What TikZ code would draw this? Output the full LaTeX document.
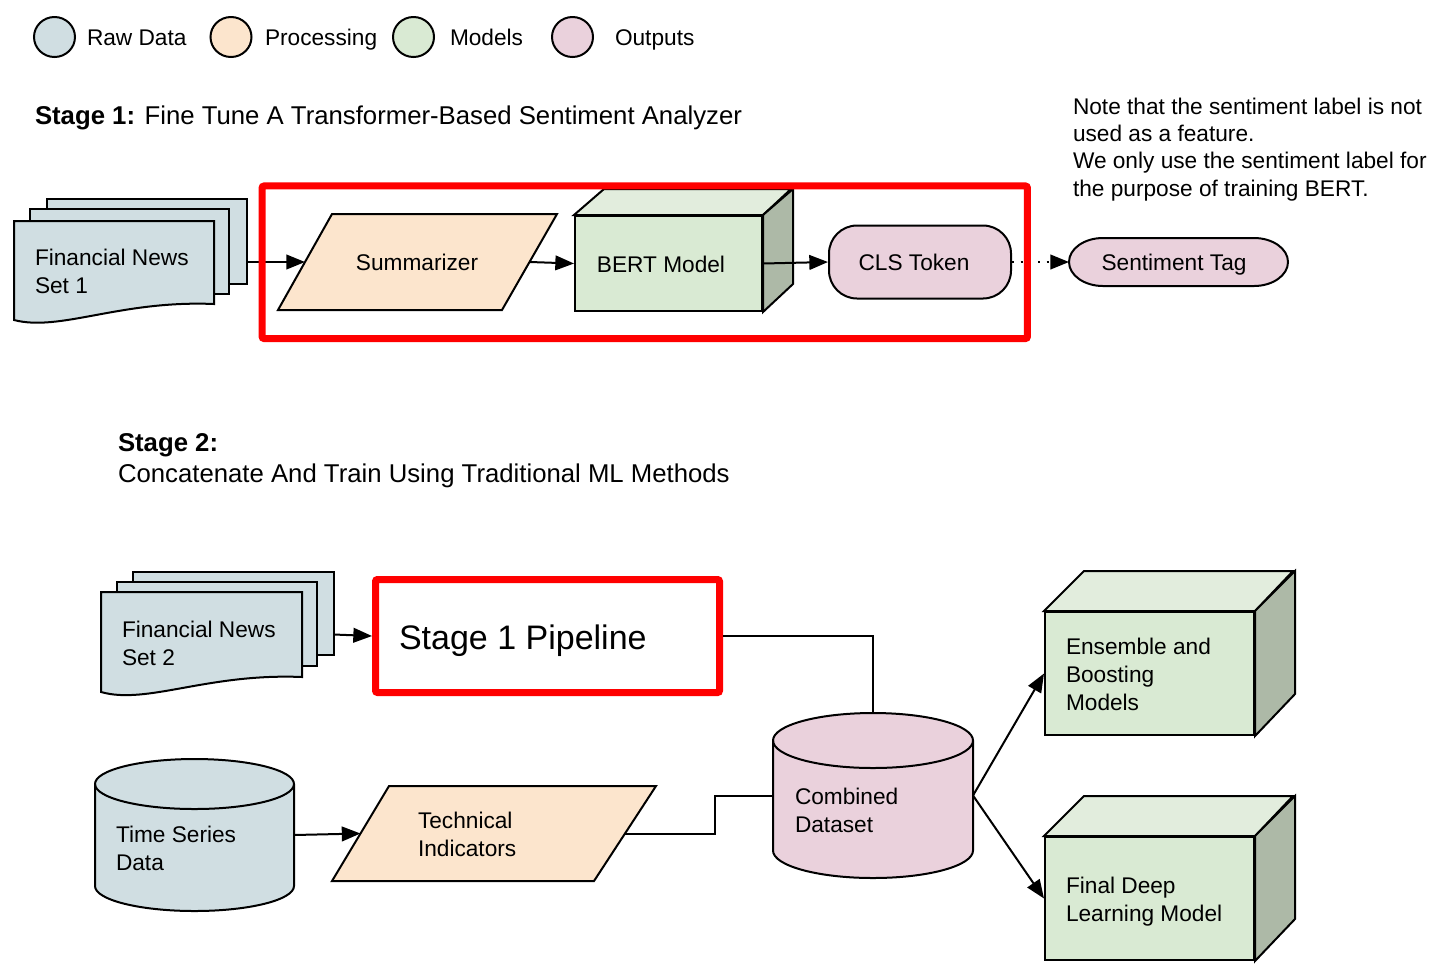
\documentclass[tikz,border=0pt]{standalone}
\usepackage{fontspec}
\setmainfont{Liberation Sans}
\usetikzlibrary{arrows.meta,shapes.geometric,calc}
\definecolor{rawc}{HTML}{D0DEE2}
\definecolor{procc}{HTML}{FCE5CD}
\definecolor{modc}{HTML}{D9EAD3}
\definecolor{outc}{HTML}{EAD1DC}
\definecolor{cubetop}{HTML}{E2EDDD}
\definecolor{cubeside}{HTML}{ADB9A7}
\definecolor{redc}{HTML}{FF0000}
\begin{document}
\begin{tikzpicture}[x=0.75pt,y=-0.75pt,line width=1.5pt,
  txt/.style={inner sep=0pt,outer sep=0pt,font=\fontsize{17pt}{21pt}\selectfont,align=left},
  ttl/.style={inner sep=0pt,outer sep=0pt,font=\fontsize{19.3pt}{23.2pt}\selectfont,align=left},
  shp/.style={inner sep=0pt,outer sep=0pt,draw=none},
  arr/.style={-{Triangle[length=14pt,width=11pt]},line width=1.5pt},
  ln/.style={line width=1.5pt},
  legend/.style={ellipse,draw,line width=1.5pt,minimum width=30.75pt,minimum height=30pt,inner sep=0pt},
  redbox/.style={draw=redc,line width=5.25pt,inner sep=0pt,rounded corners=1.5pt},
  cube/.style={draw,fill=modc,line width=1.5pt,inner sep=0pt}]
\useasboundingbox (0,0) rectangle (1433,972);
\fill[white] (0,0) rectangle (1433,972);

% ---------- legend ----------
\node[legend,fill=rawc] (lg1) at (54.5,37) {};
\node[txt,anchor=base west] (lt1) at (87,45) {Raw Data};
\node[legend,fill=procc] (lg2) at (231,37) {};
\node[txt,anchor=base west] (lt2) at (265,45) {Processing};
\node[legend,fill=modc] (lg3) at (413.5,37) {};
\node[txt,anchor=base west] (lt3) at (450,45) {Models};
\node[legend,fill=outc] (lg4) at (572.5,37) {};
\node[txt,anchor=base west] (lt4) at (615,45) {Outputs};

% ---------- stage 1 ----------
\node[ttl,anchor=base west] (t1) at (35,124) {\textbf{Stage 1:} Fine Tune A Transformer-Based Sentiment Analyzer};
\node[txt,anchor=base west,font=\fontsize{17pt}{20.5pt}\selectfont] (note) at (1073,196)
  {Note that the sentiment label is not\\used as a feature.\\We only use the sentiment label for\\the purpose of training BERT.};

% Financial News Set 1 (multi document)
\node[shp,minimum width=174.75pt,minimum height=94.5pt] (fn1) at (130.5,262) {};
\draw[fill=rawc] (47,199) rectangle (247,284);
\draw[fill=rawc] (30,209) rectangle (229,294);
\draw[fill=rawc] (14,221) -- (214,221) -- (214,304) .. controls (120,300) and (60,332) .. (14,320) -- cycle;
\node[txt,anchor=base west] (fn1t) at (35,293) {Financial News\\Set 1};

% Summarizer
\node[shp,minimum width=168.75pt,minimum height=72pt] (summ) at (417.5,262) {};
\draw[fill=procc] (332,214) -- (557,214) -- (502,310) -- (278,310) -- cycle;
\node[txt,anchor=base] (summt) at (417,270) {Summarizer};

% BERT cube
\node[cube,minimum width=140.25pt,minimum height=71.25pt] (bert) at (668.5,263.5) {};
\draw[fill=cubetop] (bert.north west) -- ++(30,-26) -- ++(187,0) -- (bert.north east) -- cycle;
\draw[fill=cubeside] (bert.north east) -- ++(30,-26) -- ++(0,95) -- (bert.south east) -- cycle;
\node[txt,anchor=base] (bertt) at (661,272) {BERT Model};

% CLS Token
\node[draw,fill=outc,rounded corners=21pt,minimum width=136.5pt,minimum height=54.75pt,inner sep=0pt] (cls) at (920,262) {};
\node[txt,anchor=base] (clst) at (914,270) {CLS Token};

% Sentiment Tag
\node[shp,minimum width=164.25pt,minimum height=36pt] (st) at (1178.5,262) {};
\draw[fill=outc] ($(st.north west)+(34,0)$) -- ($(st.north east)+(-34,0)$)
  arc[start angle=90,end angle=-90,x radius=25.5pt,y radius=18pt]
  -- ($(st.south west)+(34,0)$)
  arc[start angle=270,end angle=90,x radius=25.5pt,y radius=18pt] -- cycle;
\node[txt,anchor=base] (stt) at (1174,270) {Sentiment Tag};

% connectors stage 1
\draw[arr] (fn1.east) -- (summ.west);
\draw[arr] (summ.east) -- (bert.west);
\draw[arr] (bert.east) -- (cls.west);
\draw[arr,dash pattern=on 1.5pt off 5pt] (cls.east) -- (st.west);

\node[redbox,minimum width=574pt,minimum height=114.4pt] (s1) at (644.75,262.25) {};

% ---------- stage 2 ----------
\node[ttl,anchor=base west] (t2) at (118,482) {\textbf{Stage 2:}\\Concatenate And Train Using Traditional ML Methods};

% Financial News Set 2
\node[shp,minimum width=174.75pt,minimum height=93.75pt] (fn2) at (217.5,634.5) {};
\draw[fill=rawc] (133,572) rectangle (334,655);
\draw[fill=rawc] (117,582) rectangle (317,666);
\draw[fill=rawc] (101,592) -- (302,592) -- (302,677) .. controls (207,673) and (147,705) .. (101,692) -- cycle;
\node[txt,anchor=base west] (fn2t) at (122,665) {Financial News\\Set 2};

% Stage 1 Pipeline
\node[redbox,minimum width=258pt,minimum height=84.75pt] (s1p) at (547.5,636) {};
\node[anchor=base west,inner sep=0pt,font=\fontsize{25.5pt}{30pt}\selectfont] (s1pt) at (398,649) {Stage 1 Pipeline};

% Time Series Data cylinder
\node[shp,minimum width=149.25pt,minimum height=114pt] (ts) at (194.5,835) {};
\draw[fill=rawc] (95,784) -- (95,886) arc[start angle=180,end angle=360,x radius=74.625pt,y radius=18.75pt]
  -- (294,784) arc[start angle=0,end angle=180,x radius=74.625pt,y radius=18.75pt] -- cycle;
\draw (95,784) arc[start angle=180,end angle=360,x radius=74.625pt,y radius=18.75pt];
\node[txt,anchor=base west] (tst) at (116,870) {Time Series\\Data};

% Technical Indicators
\node[shp,minimum width=198.4pt,minimum height=71.25pt] (ti) at (492.75,833.5) {};
\draw[fill=procc] (389,786) -- (656,786) -- (594,881) -- (332,881) -- cycle;
\node[txt,anchor=base west] (tit) at (418,856) {Technical\\Indicators};

% Combined Dataset cylinder
\node[shp,minimum width=150pt,minimum height=123.75pt] (cd) at (873,795.5) {};
\draw[fill=outc] (773,740.5) -- (773,850.5) arc[start angle=180,end angle=360,x radius=75pt,y radius=20.625pt]
  -- (973,740.5) arc[start angle=0,end angle=180,x radius=75pt,y radius=20.625pt] -- cycle;
\draw (773,740.5) arc[start angle=180,end angle=360,x radius=75pt,y radius=20.625pt];
\node[txt,anchor=base west] (cdt) at (795,832) {Combined\\Dataset};

% Ensemble cube
\node[cube,minimum width=156.75pt,minimum height=92.25pt] (ens) at (1149.5,673.5) {};
\draw[fill=cubetop] (ens.north west) -- ++(40,-40) -- ++(209,0) -- (ens.north east) -- cycle;
\draw[fill=cubeside] (ens.north east) -- ++(40,-40) -- ++(0,123) -- (ens.south east) -- cycle;
\node[txt,anchor=base west] (enst) at (1066,710) {Ensemble and\\Boosting\\Models};

% Final Deep Learning cube
\node[cube,minimum width=156.75pt,minimum height=92.25pt] (fdl) at (1149.5,898.5) {};
\draw[fill=cubetop] (fdl.north west) -- ++(40,-40) -- ++(209,0) -- (fdl.north east) -- cycle;
\draw[fill=cubeside] (fdl.north east) -- ++(40,-40) -- ++(0,123) -- (fdl.south east) -- cycle;
\node[txt,anchor=base west] (fdlt) at (1066,921) {Final Deep\\Learning Model};

% connectors stage 2
\draw[arr] (fn2.east) -- (s1p.west);
\draw[ln] (s1p.east) -| (cd.north);
\draw[arr] (ts.east) -- (ti.west);
\draw[ln] (ti.east) -- ++(90,0) |- (cd.west);
\draw[arr] (cd.east) -- (ens.west);
\draw[arr] (cd.east) -- (fdl.west);
\end{tikzpicture}
\end{document}
